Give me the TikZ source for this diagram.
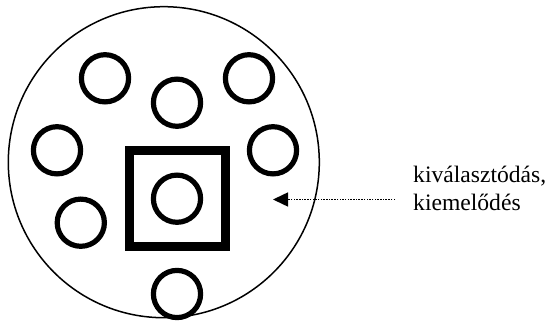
\documentclass[tikz,border=0pt]{standalone}
\usepackage{fontspec}
\setmainfont{Liberation Serif}
\usetikzlibrary{arrows.meta}
\begin{document}
\begin{tikzpicture}[x=1pt,y=-1pt,
  cell/.style={circle,draw=black,line width=5.2pt,minimum size=47.2pt,inner sep=0pt},
  frame/.style={draw=black,line width=8.8pt,minimum width=96pt,minimum height=96pt,inner sep=0pt},
  boundary/.style={circle,draw=black,line width=1.5pt,minimum size=311pt,inner sep=0pt},
  labeltext/.style={font=\fontsize{23.6pt}{28pt}\selectfont,align=left,inner sep=0pt,anchor=base west},
  pointer/.style={line width=1.5pt,dash pattern=on 1.5pt off 1.2pt,-{Triangle[length=15pt,width=14pt]}}
]
\useasboundingbox (0,0) rectangle (548,321);
\node[boundary] (big) at (163.8,162.2) {};
\node[cell] (c1) at (105,78.3) {};
\node[cell] (c2) at (177,102.7) {};
\node[cell] (c3) at (249,78.3) {};
\node[cell] (c4) at (57,150.3) {};
\node[cell] (c5) at (273,150.3) {};
\node[cell] (c6) at (80.8,222.7) {};
\node[frame] (sq) at (177.1,198.4) {};
\node[cell] (c7) at (177,198.7) {};
\node[cell] (c8) at (177,294) {};
\node[labeltext] (lbl) at (413,210) {kiválasztódás,\\kiemelődés};
\coordinate (arrowstart) at (395,199.5);
\coordinate (arrowtip) at (273,199.5);
\draw[pointer] (arrowstart) -- (arrowtip);
\end{tikzpicture}
\end{document}
